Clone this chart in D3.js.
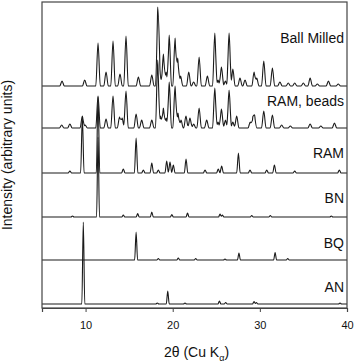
<!DOCTYPE html>
<html>
<head>
<meta charset="utf-8">
<script src="https://cdn.jsdelivr.net/npm/d3@7"></script>
<style>
  body { margin: 0; background: #fff; }
  text { font-family: "Liberation Sans", Arial, sans-serif; fill: #111; }
</style>
</head>
<body>
<div id="chart"></div>
<script>
// sample names, bottom to top
var samples = ["AN", "BQ", "BN", "RAM", "RAM, beads", "Ball Milled"];
// baseline of each pattern (arbitrary intensity units)
var offsets = [4, 48, 91, 135, 180, 222];
// peak half width (degrees 2θ) per pattern
var peakWidths = [0.17, 0.17, 0.17, 0.2, 0.26, 0.26];

// peaks: [2θ, intensity]
var peaksAN = [[9.74, 82], [18.23, 1], [19.43, 13], [21.41, 1], [25.36, 3], [26.08, 1.5],
    [29.33, 2.5], [29.6, 1.5], [39.2, 1]];
var peaksBQ = [[15.8, 28], [18.35, 1.5], [20.64, 2], [22.64, 1.5], [26.0, 1],
    [27.6, 7], [31.75, 7.5], [33.2, 1.5]];
var peaksBN = [[8.5, 1], [11.43, 80], [14.33, 2], [15.98, 3.5], [17.6, 5], [19.9, 2.5],
    [21.7, 4], [25.43, 3], [25.7, 2], [29.07, 1.5], [31.2, 1.5], [38.2, 1]];
var peaksRAM = [[8.2, 2], [9.63, 56], [11.43, 76], [14.33, 4], [15.8, 35], [16.63, 3],
    [17.6, 10], [18.35, 3], [19.31, 12], [19.69, 11], [20.07, 8], [21.53, 14], [23.71, 3],
    [25.23, 4], [25.62, 7], [27.54, 20], [28.87, 3], [30.79, 3], [31.67, 8], [34.0, 2],
    [39.12, 3]];
var peaksBeads = [[7.26, 3], [8.2, 4], [9.63, 12], [9.95, 3], [11.43, 32], [12.35, 9],
    [13.15, 32], [13.9, 11], [14.2, 10], [14.64, 37], [15.8, 14], [16.44, 8], [17.6, 8],
    [18.28, 68], [18.6, 12], [18.93, 20], [19.25, 10], [19.6, 46], [20.27, 42], [20.6, 15],
    [20.95, 8], [21.52, 12], [21.98, 10], [22.4, 4], [23.03, 20], [23.9, 8], [24.83, 40],
    [25.2, 6], [25.59, 19], [26.05, 8], [26.47, 38], [26.9, 6], [27.34, 12], [28.9, 6],
    [29.2, 9], [29.4, 11], [30.45, 17], [31.44, 13], [32.5, 3], [33.5, 2], [35.77, 4],
    [37.0, 2], [38.56, 5]];
var peaksBall = [[7.3, 5], [9.9, 6], [11.43, 43], [12.35, 14], [13.15, 45], [13.95, 12],
    [14.64, 50], [16.06, 9], [17.6, 11], [18.28, 76], [18.5, 19], [18.93, 32], [19.25, 14],
    [19.6, 51], [20.27, 48], [20.57, 28], [20.9, 10], [21.84, 14], [22.4, 4], [23.03, 29],
    [23.98, 10], [24.83, 53], [25.2, 6], [25.59, 19], [26.05, 5], [26.47, 53], [26.9, 17],
    [27.72, 8], [28.3, 6], [29.34, 14], [29.64, 8], [30.45, 25], [31.44, 18], [32.3, 4],
    [33.26, 3], [34.0, 3], [34.99, 3], [35.77, 8], [36.6, 2], [37.87, 5], [39.0, 2]];
var patterns = [peaksAN, peaksBQ, peaksBN, peaksRAM, peaksBeads, peaksBall];

var xTicks = [10, 20, 30, 40];

var width = 355, height = 364;
var margin = {top: 2, right: 8, bottom: 56, left: 42};
// label lift above each baseline (layout only)
var labelRaise = [12, 12, 14, 15, 22, 43];

var svg = d3.select("#chart").append("svg")
    .attr("width", width)
    .attr("height", height);

var x = d3.scaleLinear()
    .domain([5, 40])
    .range([margin.left, width - margin.right]);

var y = d3.scaleLinear()
    .domain([0, 306])
    .range([height - margin.bottom, margin.top]);

// sum of triangular peaks, evaluated at every break point
function profile(peaks, w) {
    var xs = [5, 40];
    peaks.forEach(function (p) {
        xs.push(p[0] - w, p[0], p[0] + w);
    });
    xs = xs.filter(function (v) { return v >= 5 && v <= 40; }).sort(d3.ascending);
    return xs.map(function (t) {
        var s = 0;
        peaks.forEach(function (p) {
            s += p[1] * Math.max(0, 1 - Math.abs(t - p[0]) / w);
        });
        return [t, s];
    });
}

var line = d3.line().curve(d3.curveMonotoneX);

var traces = svg.append("g").attr("class", "traces");
patterns.forEach(function (peaks, i) {
    var pts = profile(peaks, peakWidths[i]);
    traces.append("path")
        .datum(pts)
        .attr("fill", "none")
        .attr("stroke", "#1a1a1a")
        .attr("stroke-width", 1.1)
        .attr("stroke-linejoin", "round")
        .attr("d", line.x(function (d) { return x(d[0]); })
            .y(function (d) { return y(offsets[i] + d[1]); }));

    svg.append("text")
        .attr("x", x(40) - 3)
        .attr("y", y(offsets[i] + labelRaise[i]))
        .attr("text-anchor", "end")
        .style("font-size", "14px")
        .text(samples[i]);
});

// frame
svg.append("rect")
    .attr("x", x(5))
    .attr("y", y(306))
    .attr("width", x(40) - x(5))
    .attr("height", y(0) - y(306))
    .attr("fill", "none")
    .attr("stroke", "#444")
    .attr("stroke-width", 1.2);

var xAxis = svg.append("g")
    .attr("transform", "translate(0," + y(0) + ")")
    .call(d3.axisBottom(x).tickValues(xTicks).tickSize(4).tickPadding(9));
xAxis.select(".domain").attr("stroke", "#444").attr("stroke-width", 1.2);
xAxis.selectAll(".tick line").attr("stroke", "#444");
xAxis.selectAll(".tick text")
    .style("font-size", "11px")
    .style("font-family", "Liberation Sans, Arial, sans-serif")
    .attr("fill", "#111");

var title = svg.append("text")
    .attr("x", (x(5) + x(40)) / 2 + 2)
    .attr("y", 357)
    .attr("text-anchor", "middle")
    .style("font-size", "14px");
title.append("tspan").text("2θ (Cu K");
title.append("tspan").attr("dy", 4).style("font-size", "9px").text("α");
title.append("tspan").attr("dy", -4).text(")");

svg.append("text")
    .attr("transform", "translate(12," + ((y(0) + y(306)) / 2) + ") rotate(-90)")
    .attr("text-anchor", "middle")
    .style("font-size", "14px")
    .text("Intensity (arbitrary units)");
</script>
</body>
</html>
